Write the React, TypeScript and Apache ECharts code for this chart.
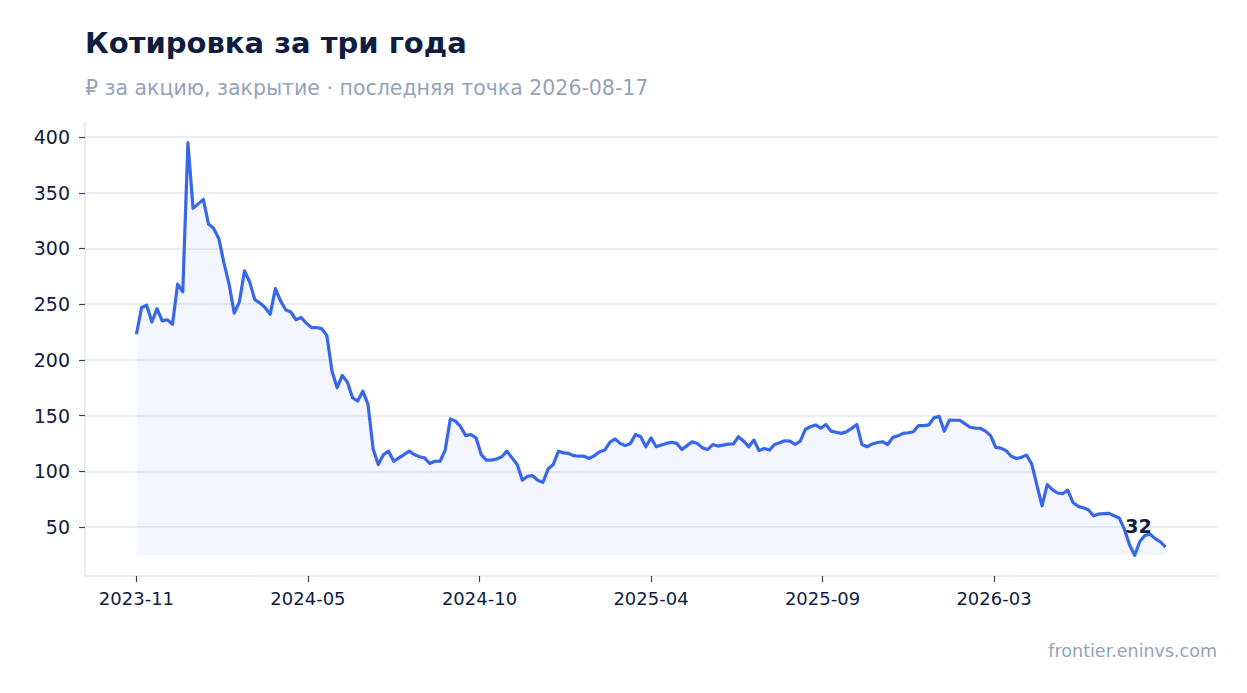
import React, { useEffect, useRef } from "react";
import * as echarts from "echarts";

const FONT = "'DejaVu Sans', sans-serif";
const LINE_COLOR = "#3868e8";
const INK = "#0f1d40";
const MUTED = "#94a3b8";

// closes sampled every 5 days, first point 2023-11-21, last point 2026-08-17
const START_DATE = "2023-11-21";
const STEP_DAYS = 5;

const closes2023 = [223, 247, 249, 234, 246, 235, 236, 232, 268];
const closes2024 = [
  261, 395, 336, 340, 344, 322, 318, 309, 287, 268,
  242, 252, 280, 270, 254, 251, 247, 241, 264, 253,
  245, 243, 236, 238, 233, 229, 229, 228, 222, 190,
  175, 186, 180, 166, 163, 172, 160, 120, 106, 115,
  118, 109, 112, 115, 118, 115, 113, 112, 107, 109,
  109, 119, 147, 145, 140, 132, 133, 130, 115, 110,
  110, 111, 113, 118, 112, 106, 92, 95.5, 96, 92,
  90, 102, 106,
];
const closes2025 = [
  118, 116.5, 116, 114, 113.5, 113.5, 111.5, 114, 117.5, 119,
  126, 129, 125, 123, 125, 133, 131, 122, 130, 122,
  123.5, 125, 126, 125, 119.6, 123, 126.5, 125, 121, 119.5,
  124, 122.6, 123.5, 124.4, 124.5, 131, 127, 122, 128, 118.5,
  120.5, 119, 124, 125.6, 127.4, 127, 124, 127, 137.7, 140,
  141.6, 138.6, 142, 136, 135, 134, 135.5, 138.5, 142, 124,
  122, 124.5, 125.8, 126.5, 124, 130.4, 131.8, 134, 134.6, 135.5,
  141, 141, 141.6,
];
const closes2026 = [
  148, 149.3, 136, 146, 145.8, 145.8, 142.7, 139.5, 138.8, 138.6,
  136, 132, 121.5, 120.8, 118.5, 113.5, 111.5, 112.5, 114.5, 106.5,
  87.5, 69, 88, 83.5, 80.5, 80, 83, 72, 68.5, 67.3,
  65.5, 60, 61.5, 62, 62.2, 60, 58, 48, 34, 24.5,
  37, 42.5, 43.5, 39.5, 36.7, 32,
];
const closes = [...closes2023, ...closes2024, ...closes2025, ...closes2026];

const xTickLabels = ["2023-11", "2024-05", "2024-10", "2025-04", "2025-09", "2026-03"];
const yTicks = [50, 100, 150, 200, 250, 300, 350, 400];

const App: React.FC = () => {
  const chartRef = useRef<HTMLDivElement>(null);

  useEffect(() => {
    if (!chartRef.current) return;
    const chart = echarts.init(chartRef.current, null, { renderer: "svg" });

    const day = 86400000;
    const start = Date.parse(START_DATE + "T00:00:00Z");
    const seriesData = closes.map((v, i) => [start + i * STEP_DAYS * day, v]);
    const end = seriesData[seriesData.length - 1][0];
    const span = end - start;
    // ticks split the date range into six equal parts
    const xTickValues = xTickLabels.map((_, k) => start + (k * span) / 6);

    const lo = Math.min(...closes);
    const hi = Math.max(...closes);
    const yPad = (hi - lo) * 0.05;

    const option = {
      animation: false,
      title: [
        {
          text: "Котировка за три года",
          left: 85,
          top: 28,
          padding: 0,
          textStyle: { fontFamily: FONT, fontSize: 29, fontWeight: "bold", color: INK },
        },
        {
          text: "₽ за акцию, закрытие · последняя точка 2026-08-17",
          left: 85,
          top: 77,
          padding: 0,
          textStyle: { fontFamily: FONT, fontSize: 20.5, fontWeight: "normal", color: MUTED },
        },
      ],
      graphic: [
        {
          type: "text",
          right: 30,
          top: 642,
          style: { text: "frontier.eninvs.com", fontFamily: FONT, fontSize: 17.5, fill: MUTED },
        },
      ],
      grid: { left: 85, right: 30, top: 122, bottom: 117, containLabel: false },
      xAxis: {
        type: "value",
        min: start - span * 0.05,
        max: end + span * 0.05,
        axisLine: { show: true, lineStyle: { color: "#e2e8f0", width: 1.5 } },
        axisTick: {
          show: true,
          customValues: xTickValues,
          length: 6,
          lineStyle: { color: "#334155", width: 1.2 },
        },
        axisLabel: {
          customValues: xTickValues,
          margin: 13,
          fontFamily: FONT,
          fontSize: 18,
          color: INK,
          formatter: (v: number) => {
            const idx = xTickValues.findIndex((t) => Math.abs(t - v) < day);
            return idx >= 0 ? xTickLabels[idx] : "";
          },
        },
        splitLine: { show: false },
      },
      yAxis: {
        type: "value",
        min: lo - yPad,
        max: hi + yPad,
        axisLine: { show: true, lineStyle: { color: "#e2e8f0", width: 1.5 } },
        axisTick: {
          show: true,
          customValues: yTicks,
          length: 6,
          lineStyle: { color: "#334155", width: 1.2 },
        },
        axisLabel: {
          customValues: yTicks,
          margin: 15,
          fontFamily: FONT,
          fontSize: 19,
          color: INK,
        },
        splitLine: { show: true, lineStyle: { color: "#e3e8f1", width: 1.5 } },
      },
      series: [
        {
          type: "line",
          data: seriesData,
          showSymbol: false,
          lineStyle: { color: LINE_COLOR, width: 3.2, join: "round" },
          itemStyle: { color: LINE_COLOR },
          areaStyle: { origin: lo, color: "rgba(56, 104, 232, 0.09)" },
          endLabel: {
            show: true,
            formatter: (p: any) => String(Math.round(p.value[1])),
            fontFamily: FONT,
            fontSize: 19,
            fontWeight: "bold",
            color: INK,
            align: "center",
            verticalAlign: "middle",
            distance: 0,
            offset: [-27, -21],
          },
        },
      ],
    };

    chart.setOption(option);
    return () => chart.dispose();
  }, []);

  return (
    <div
      ref={chartRef}
      style={{ position: "fixed", left: 0, top: 0, width: 1247, height: 693, background: "#fff" }}
    />
  );
};

export default App;
